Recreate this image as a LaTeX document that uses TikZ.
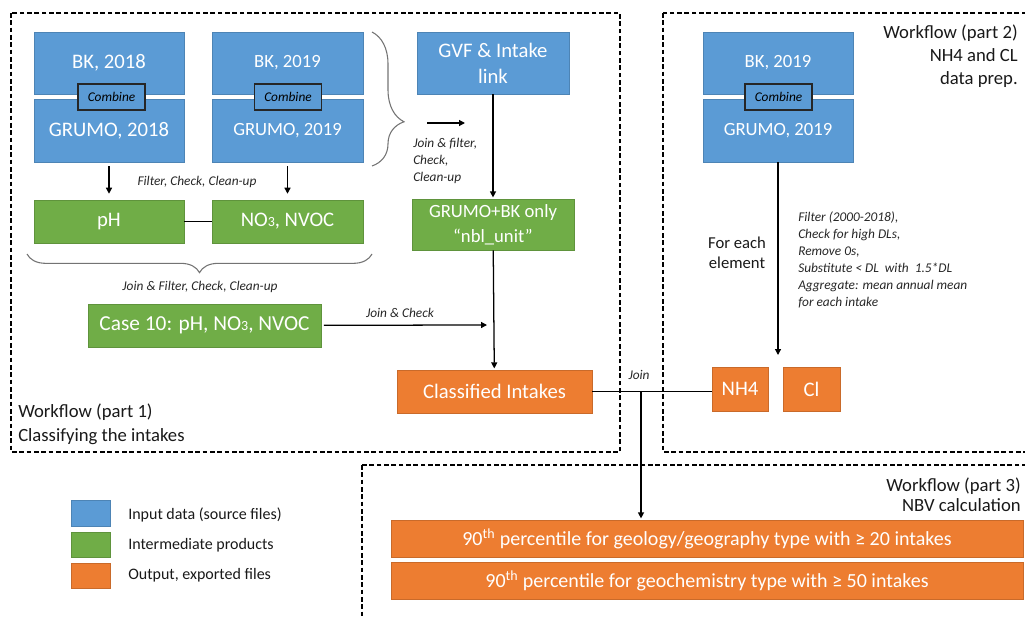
\documentclass[tikz,border=0pt]{standalone}
\usepackage{fontspec}
\setmainfont{Carlito}
\usetikzlibrary{arrows.meta, positioning, calc, decorations.pathreplacing}

\definecolor{inblue}{HTML}{5B9BD5}
\definecolor{midgreen}{HTML}{70AD47}
\definecolor{outorange}{HTML}{ED7D31}

\tikzset{
  wh/.style 2 args={minimum width={#1*0.75pt}, minimum height={#2*0.75pt}},
  box/.style={rectangle, draw=#1!85!black, line width=0.4pt, fill=#1, text=white,
    inner sep=0pt, align=center, font=\fontsize{15.5}{19.5}\selectfont},
  combbox/.style={rectangle, draw=black!85, line width=0.8pt, fill=inblue, wh={67}{26},
    inner sep=0pt, font=\fontsize{10}{12}\selectfont\itshape},
  note/.style={font=\fontsize{10}{12.75}\selectfont\itshape, text=black!85, inner sep=0pt},
  wf/.style={font=\fontsize{14}{18}\selectfont, text=black!90, inner sep=0pt},
  arr/.style={-{Triangle[length=4.5pt,width=4.5pt]}, line width=0.95pt},
  link/.style={line width=0.95pt},
  frame/.style={dash pattern=on 3.5pt off 2pt, line width=1.1pt},
  curly/.style={decorate, draw=black!55, line width=0.8pt},
}

\newcommand{\smallthree}{{\fontsize{10.5}{12}\selectfont 3}}

\begin{document}
\begin{tikzpicture}[x=0.75pt, y=-0.75pt]
\clip (0,0) rectangle (1025,617);

% cornici tratteggiate
\draw[frame] (11,13) rectangle (620,452);
\draw[frame] (663,13) rectangle (1040,452);
\draw[frame] (362,465) rectangle (1040,640);

% parte 1: dati di ingresso
\node[box=inblue, wh={150}{62}] (bk18) at (109,63) {BK, 2018};
\node[box=inblue, wh={150}{63}] (gr18) at (109,130.5) {GRUMO, 2018};
\node[combbox] (comb18) at (111.5,97) {Combine};
\node[box=inblue, wh={151}{62}, font=\fontsize{14}{17}\selectfont] (bk19) at (287.5,63) {BK, 2019};
\node[box=inblue, wh={151}{63}, font=\fontsize{14}{17}\selectfont] (gr19) at (287.5,130.5) {GRUMO, 2019};
\node[combbox] (comb19) at (288,97) {Combine};
\node[box=inblue, wh={152}{62}] (gvf) at (493,63) {GVF \& Intake\\link};

% parte 1: prodotti intermedi
\node[box=midgreen, wh={150}{43}] (ph) at (109,221.5) {pH};
\node[box=midgreen, wh={151}{43}] (no3) at (287.5,221.5) {NO\smallthree, NVOC};
\node[box=midgreen, wh={162}{51}, font=\fontsize{14}{19}\selectfont] (nbl) at (493,224.5) {GRUMO+BK only\\“nbl\_unit”};
\node[box=midgreen, wh={233}{43}, font=\fontsize{16}{19}\selectfont] (case) at (204.5,325.5) {Case 10: pH, NO\smallthree, NVOC};
\node[box=outorange, wh={195}{43}] (cls) at (494.5,391.5) {Classified Intakes};

% parte 1: collegamenti
\draw[arr, shorten <=3pt, shorten >=4.5pt] (gr18) -- (ph);
\draw[arr, shorten <=3pt, shorten >=4.5pt] (gr19) -- (no3);
\node[note] (fcc) at (197,182) {Filter, Check, Clean-up};
\draw[link] (ph) -- (no3);

\draw[curly, decoration={brace, amplitude=24pt, aspect=0.67}] (372,32) -- (372,166);
\coordinate (bt) at (427,123);
\coordinate (bh) at (465,123);
\draw[arr] (bt) -- (bh);
\node[note, anchor=north west, align=left] (jfc) at (413,138) {Join \& filter,\\Check,\\Clean-up};
\draw[arr, shorten >=1pt] (gvf) -- (nbl);

\draw[curly, decoration={brace, amplitude=14pt, aspect=0.5}] (372,254) -- (27,254);
\node[note] (jfcc) at (200,287) {Join \& Filter, Check, Clean-up};

\coordinate (jc) at (487,325);
\draw[arr, shorten <=2pt] (case) -- (jc);
\node[note] (jcl) at (400,313) {Join \& Check};
\draw[arr, shorten >=1pt] (nbl) -- (cls);

\node[wf, anchor=north west, align=left] (wf1) at (18,404) {Workflow (part 1)\\Classifying the intakes};

% parte 2
\node[box=inblue, wh={150}{62}, font=\fontsize{14}{17}\selectfont] (bk19b) at (778,63) {BK, 2019};
\node[box=inblue, wh={150}{63}, font=\fontsize{14}{17}\selectfont] (gr19b) at (778,130.5) {GRUMO, 2019};
\node[combbox] (comb19b) at (778.5,97) {Combine};
\node[wf, anchor=north east, align=right, font=\fontsize{14}{17}\selectfont] (wf2) at (1018,25) {Workflow (part 2)\\NH4 and CL\\data prep.};

\coordinate (pre) at (778,355);
\draw[arr] (gr19b) -- (pre);
\node[wf, align=center, font=\fontsize{12.5}{15}\selectfont] (each) at (737,253) {For each\\element};
\node[note, anchor=north west, align=left] (steps) at (798,211)
  {Filter (2000-2018),\\Check for high DLs,\\Remove 0s,\\Substitute < DL\ \ with\ \ 1.5*DL\\Aggregate: mean annual mean\\for each intake};

\node[box=outorange, wh={56}{44}] (nh4) at (740,389) {NH4};
\node[box=outorange, wh={57}{44}] (cl) at (811.5,389) {Cl};

% join verso la parte 3
\draw[link] (cls.east) -- (cls.east -| nh4.west);
\node[note] (joinl) at (639,375) {Join};
\coordinate (jn) at (641,391.5);

% parte 3
\node[wf, anchor=north east, align=right, font=\fontsize{14}{14.5}\selectfont] (wf3) at (1021,478) {Workflow (part 3)\\NBV calculation};
\node[box=outorange, wh={632}{37}, font=\fontsize{15}{18}\selectfont] (p90a) at (707,538.5)
  {90\textsuperscript{th} percentile for geology/geography type with ≥ 20 intakes};
\node[box=outorange, wh={632}{37}, font=\fontsize{15}{18}\selectfont] (p90b) at (707,580.5)
  {90\textsuperscript{th} percentile for geochemistry type with ≥ 50 intakes};
\draw[arr, shorten >=1pt] (jn) -- (jn |- p90a.north);

% legenda
\node[box=inblue, wh={39}{26}] (lgblue) at (90.5,513) {};
\node[box=midgreen, wh={39}{25}] (lggreen) at (90.5,544.5) {};
\node[box=outorange, wh={39}{25}] (lgorange) at (90.5,575.5) {};
\node[wf, anchor=west, font=\fontsize{12}{14}\selectfont] (lgt1) at (128,515) {Input data (source files)};
\node[wf, anchor=west, font=\fontsize{12}{14}\selectfont] (lgt2) at (128,545) {Intermediate products};
\node[wf, anchor=west, font=\fontsize{12}{14}\selectfont] (lgt3) at (128,575) {Output, exported files};

\end{tikzpicture}
\end{document}
